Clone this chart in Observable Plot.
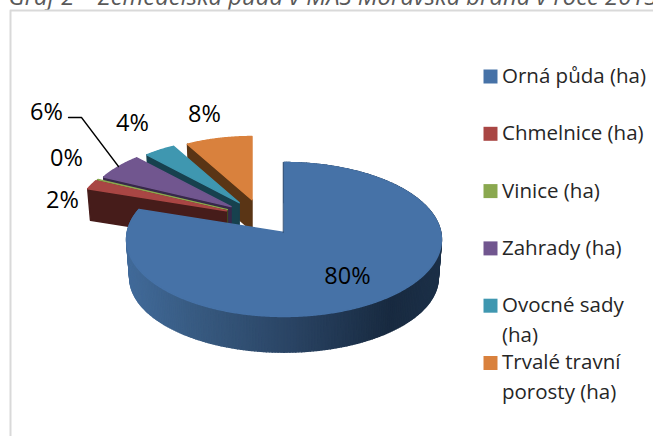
<!DOCTYPE html>
<html><head><meta charset="utf-8">
<script src="https://cdn.jsdelivr.net/npm/d3@7"></script>
<script src="https://cdn.jsdelivr.net/npm/@observablehq/plot@0.6"></script>
<style>html,body{margin:0;padding:0;background:#fff;overflow:hidden}svg{display:block}</style>
</head><body><div id="chart"></div>
<script>
// --- data
const categories = ["Orná půda (ha)","Chmelnice (ha)","Vinice (ha)","Zahrady (ha)","Ovocné sady\n(ha)","Trvalé travní\nporosty (ha)"];
const shares = [80, 2, 0.1, 5.9, 3.8, 8.2];
const shareLabels = ["80%","2%","0%","6%","4%","8%"];
const title = "Graf 2 – Zemědělská půda v MAS Moravská brána v roce 2013";

// --- styles / layout
const topColors = ["#4672a7","#a94644","#8aa84f","#71568f","#3f97b0","#d9813d"];
const sideColors = ["#2a4464","#461c1a","#3d4d20","#37284a","#17414e","#5a3515"];
const labelAnchors = [[347,276],[62,200],[66,158],[46,112],[132,123],[204,114]];
const legendX = 483, legendTop = 76, legendStep = 57.3;
const fontFamily = "'Open Sans', sans-serif";

// --- pie projection: a tilted disc seen in slight perspective
const C = {x:283.5, y:232, b:156.8, a:76.36, p:1/11, explode:0.242, far:0.99, depth:31};
const dir = deg => { const t = deg*Math.PI/180; return [Math.sin(t), -Math.cos(t)]; };
function rimPoint(deg, r=1){
  const [sx, cy] = dir(deg), w = 1 - C.p*cy;
  return [C.b*sx*r/w, C.a*cy*r/w];
}
const total = d3.sum(shares);
let acc = 0;
const slices = shares.map((v,i)=>{ const s={i,start:acc/total*360,end:(acc+v)/total*360}; acc+=v; s.mid=(s.start+s.end)/2; return s;});
const mainDir = dir(slices[0].mid);
for (const s of slices){
  if (s.i===0){ s.ox=0; s.oy=0; s.r=1; continue; }
  const d = dir(s.mid);
  s.ox = (d[0]-mainDir[0])*C.explode*C.b;
  s.oy = (d[1]-mainDir[1])*C.explode*C.a;
  s.r = C.far + C.p*d[1];
}
const topPt = (s,[x,y]) => [C.x+s.ox+x, C.y+s.oy+y];
// lower rim of the extruded wall: slightly smaller disc, pushed down
const downPt = (s,[x,y]) => [C.x+s.ox+x*0.98, C.y+s.oy+(s.i===0 ? 45-7*0.97+(y)*0.97 : C.depth+y*0.98)];

const polys = [];
let pid = 0;
function addPoly(pts,color){ const id=pid++; for(const p of pts) polys.push({id,x:p[0],y:p[1],color}); }
const wallColor = d3.scaleLinear()
  .domain([127,200,290,390,441])
  .range(["#416a99","#37597f","#2a4464","#182a40","#1c3048"]);

// paint back to front: exploded slices first, large slice last
for (const s of [...slices.slice(1)].reverse()){
  const a = rimPoint(s.start,s.r);
  addPoly([topPt(s,a),topPt(s,[0,0]),downPt(s,[0,0]),downPt(s,a)], sideColors[s.i]);
  const arc = d3.range(s.start,s.end,0.5).concat(s.end).map(t=>topPt(s,rimPoint(t,s.r)));
  addPoly([topPt(s,[0,0]),...arc], topColors[s.i]);
}
const m = slices[0];
const stepDeg = 1;
for (let t=m.start; t<m.end; t+=stepDeg){
  const p0=rimPoint(t), p1=rimPoint(Math.min(t+stepDeg,m.end));
  const q=[topPt(m,p0),topPt(m,p1),downPt(m,p1),downPt(m,p0)];
  addPoly(q, wallColor((q[0][0]+q[1][0])/2));
}
const arcMain = d3.range(m.start,m.end,0.5).concat(m.end).map(t=>topPt(m,rimPoint(t)));
addPoly([topPt(m,[0,0]),...arcMain], topColors[0]);

const notchEdge = [topPt(m,rimPoint(0)),topPt(m,[0,0])].map(([x,y])=>({x,y}));
const labels = shareLabels.map((t,i)=>({t,x:labelAnchors[i][0],y:labelAnchors[i][1]}));
const legend = categories.map((t,i)=>({t,i,y:legendTop+i*legendStep,color:topColors[i]}));
const leader = [{x:68,y:117},{x:81,y:117},{x:118,y:166}];

const plot = Plot.plot({
  width:653,height:436,margin:0,
  x:{domain:[0,653],range:[0,653],axis:null},
  y:{domain:[0,436],range:[0,436],axis:null},
  color:{type:"identity"},
  style:{fontFamily,background:"#fff",overflow:"hidden"},
  marks:[
    Plot.text([title],{x:()=>8,y:()=>-3,text:d=>d,textAnchor:"start",fontSize:23.8,fontStyle:"italic",fill:"#595959"}),
    Plot.line([{x:10,y:436},{x:10,y:10},{x:653,y:10}],{x:"x",y:"y",stroke:"#d9d9d9",strokeWidth:2}),
    Plot.line(polys,{x:"x",y:"y",z:"id",fill:"color",stroke:"color",strokeWidth:1.4,curve:"linear-closed"}),
    Plot.line(notchEdge,{x:"x",y:"y",dx:-0.8,stroke:"#2a4464",strokeWidth:0.8}),
    Plot.line(leader,{x:"x",y:"y",stroke:"#000",strokeWidth:1.3}),
    Plot.text(labels,{x:"x",y:"y",text:"t",fontSize:23.5,fill:"#000",textAnchor:"middle"}),
    Plot.dot(legend,{x:()=>legendX+7,y:"y",symbol:"square",r:7.9,fill:"color"}),
    Plot.text(legend,{x:()=>legendX+18.5,y:d=>d.y-14.5,text:"t",textAnchor:"start",lineAnchor:"top",fontSize:20.5,lineHeight:1.44,fill:"#262626"})
  ]
});
document.getElementById("chart").append(plot);
</script></body></html>
